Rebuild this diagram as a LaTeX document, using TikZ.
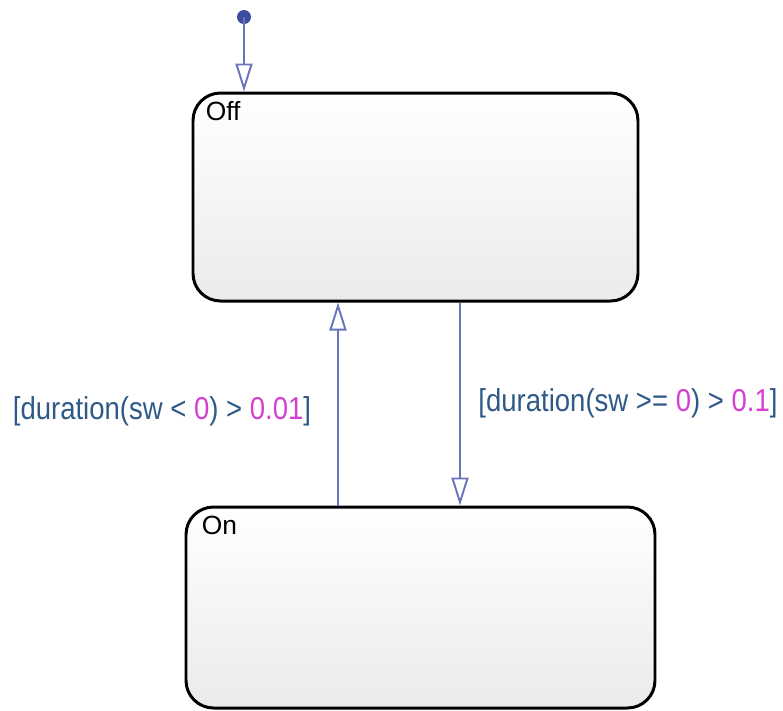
\documentclass[tikz,border=0pt]{standalone}
\usepackage{fontspec}
\setmainfont{Liberation Sans}
\newfontfamily\guardfont[FakeStretch=0.87]{Liberation Sans}
\usepackage{xcolor}
\usetikzlibrary{arrows.meta, positioning}
\definecolor{guardblue}{HTML}{2F5A88}
\definecolor{numpink}{HTML}{D63FD0}
\definecolor{translink}{HTML}{6A74BA}
\definecolor{dotblue}{HTML}{3D4C9E}

\begin{document}
\begin{tikzpicture}[
  state/.style={draw, line width=1.7pt, rounded corners=0.55cm, top color=white, bottom color=black!8, inner sep=0pt},
  statename/.style={inner sep=0pt, font=\fontsize{15}{18}\selectfont},
  trans/.style={draw=translink, line width=1.1pt, -{Triangle[open, length=0.56cm, width=0.34cm]}},
  guard/.style={inner sep=0pt, text=guardblue, font=\guardfont\fontsize{18}{21}\selectfont},
]
  \useasboundingbox (0,0) rectangle (15.66,-14.22);

  \node[state, minimum width=8.9cm, minimum height=4.16cm] (off) at (8.31,-3.94) {};
  \node[state, minimum width=9.38cm, minimum height=4.02cm] (on) at (8.41,-12.15) {};
  \node[statename, below right=0.2cm and 0.28cm of off.north west, anchor=north west] (offname) {Off};
  \node[statename, below right=0.2cm and 0.34cm of on.north west, anchor=north west] (onname) {On};

  % default transition
  \fill[dotblue] (4.88,-0.34) circle (0.14cm) coordinate (dflt);
  \draw[trans] (dflt) -- (off.north -| dflt);

  \coordinate (upx) at (6.76,0);
  \coordinate (downx) at (9.2,0);
  \draw[trans] (on.north -| upx) -- (off.south -| upx);
  \draw[trans] (off.south -| downx) -- (on.north -| downx);

  \node[guard] (gon) at (3.24,-8.22) {[duration(sw < \textcolor{numpink}{0}) > \textcolor{numpink}{0.01}]};
  \node[guard] (goff) at (12.56,-8.06) {[duration(sw >= \textcolor{numpink}{0}) > \textcolor{numpink}{0.1}]};
\end{tikzpicture}
\end{document}
